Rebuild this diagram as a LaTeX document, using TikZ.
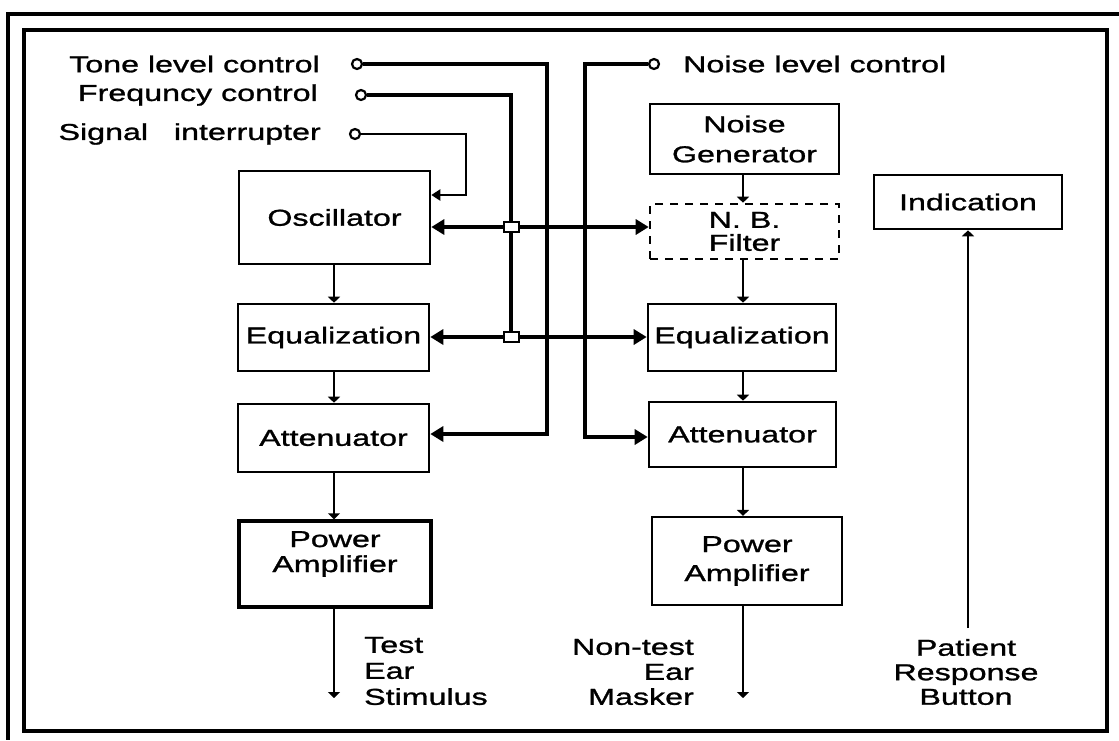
\documentclass[tikz,border=0pt]{standalone}
\usepackage{fontspec}
\setmainfont{Liberation Sans}[FakeStretch=1.4,FakeBold=1.2]
\usetikzlibrary{arrows.meta,calc}
\newcommand\lblfont{\fontsize{23}{25}\selectfont}
\begin{document}
\begin{tikzpicture}[x=1pt,y=-1pt,
  box/.style={draw,line width=2.6pt,inner sep=0pt,align=center,font=\lblfont},
  txt/.style={inner sep=0pt,font=\lblfont},
  ctl/.style={line width=3.6pt},
  sig/.style={line width=2.4pt},
  thin/.style={line width=1.8pt,-{Triangle[width=12pt,length=6pt]}},
  big/.style={-{Triangle[width=15pt,length=13pt]}},
  bigb/.style={{Triangle[width=15pt,length=13pt]}-{Triangle[width=15pt,length=13pt]}},
  term/.style={circle,draw,fill=white,line width=2.2pt,minimum size=10pt,inner sep=0pt},
  jn/.style={rectangle,draw,fill=white,line width=2pt,minimum width=15pt,minimum height=10pt,inner sep=0pt},
  frame/.style={line width=3.6pt}
]
\useasboundingbox (0,0) rectangle (1119,740);
% frames
\draw[frame] (1119,14) -- (8,14) -- (8,740);
\draw[frame] (24,30) rectangle (1107,731);

% boxes
\node[box,minimum width=191pt,minimum height=93pt] (osc) at (334.5,217.5) {Oscillator};
\node[box,minimum width=191pt,minimum height=67pt] (lEq) at (333.5,337.5) {Equalization};
\node[box,minimum width=191pt,minimum height=68pt] (lAtt) at (333.5,438) {Attenuator};
\node[box,line width=3.4pt,minimum width=192pt,minimum height=86pt,
      label={[txt,align=center,yshift=10pt,name=lPAt]center:Power\\Amplifier}] (lPA) at (335,564) {};

\node[box,minimum width=189pt,minimum height=70pt,font=\fontsize{23}{30}\selectfont] (NG) at (744.5,139) {Noise\\Generator};
\node[box,dashed,dash pattern=on 8pt off 7pt,minimum width=189pt,minimum height=55pt,font=\fontsize{23}{23}\selectfont] (NB) at (744.5,231.5) {N. B.\\Filter};
\node[box,minimum width=188pt,minimum height=67pt] (rEq) at (742,337.5) {Equalization};
\node[box,minimum width=187pt,minimum height=65pt] (rAtt) at (742.5,434.5) {Attenuator};
\node[box,line width=2.2pt,minimum width=190pt,minimum height=88pt,font=\fontsize{23}{29}\selectfont] (rPA) at (747,561) {Power\\Amplifier};
\node[box,minimum width=188pt,minimum height=54pt] (Ind) at (968,202) {Indication};

% labels
\node[txt,anchor=east] (tl) at (320,64) {Tone level control};
\node[txt,anchor=east] (fl) at (318,95) {Frequncy control};
\node[txt,anchor=east] (sl) at (321,134) {Signal\hspace{17pt} interrupter};
\node[txt,anchor=west] (nl) at (683,64) {Noise level control};
\node[txt,anchor=west,align=left,font=\fontsize{23}{26}\selectfont] (tes) at (364,671) {Test\\Ear\\Stimulus};
\node[txt,anchor=east,align=right,font=\fontsize{23}{25}\selectfont] (nem) at (694,672) {Non-test\\Ear\\Masker};
\node[txt,align=center,font=\fontsize{23}{24.5}\selectfont] (prb) at (966,672) {Patient\\Response\\Button};

% terminals
\node[term] (tc) at (357,64) {};
\node[term] (fc) at (361,95) {};
\node[term] (sc) at (355,134) {};
\node[term] (nc) at (654,64) {};

% coordinates
\coordinate (tA) at (547,434);
\coordinate (j1) at (511,227);
\coordinate (j2) at (511,337);
\coordinate (sA) at (466,195);
\coordinate (nA) at (585,437);
\coordinate (lx) at (334,0);
\coordinate (rx) at (743,0);
\coordinate (lout) at (334,698);
\coordinate (rout) at (743,698);
\coordinate (pin) at (968,628);

% control lines
\draw[ctl,big] (tc.east) -| (tA) -- (lAtt.east |- tA);
\draw[ctl] (fc.east) -| (j2);
\draw[sig,-{Triangle[width=11pt,length=9pt]}] (sc.east) -| (sA) -- (osc.east |- sA);
\draw[ctl,big] (nc.west) -| (nA) -- (rAtt.west |- nA);
\draw[ctl,bigb] (osc.east |- j1) -- (NB.west |- j1);
\draw[ctl,bigb] (lEq.east |- j2) -- (rEq.west |- j2);
\node[jn] (jn1) at (j1) {};
\node[jn] (jn2) at (j2) {};

% signal chain
\draw[thin] (lx |- osc.south) -- (lx |- lEq.north);
\draw[thin] (lx |- lEq.south) -- (lx |- lAtt.north);
\draw[thin] (lx |- lAtt.south) -- (lx |- lPA.north);
\draw[thin] (lx |- lPA.south) -- (lout);
\draw[thin] (rx |- NG.south) -- (rx |- NB.north);
\draw[thin] (rx |- NB.south) -- (rx |- rEq.north);
\draw[thin] (rx |- rEq.south) -- (rx |- rAtt.north);
\draw[thin] (rx |- rAtt.south) -- (rx |- rPA.north);
\draw[thin] (rx |- rPA.south) -- (rout);
\draw[thin] (pin) -- (Ind.south);
\end{tikzpicture}
\end{document}
